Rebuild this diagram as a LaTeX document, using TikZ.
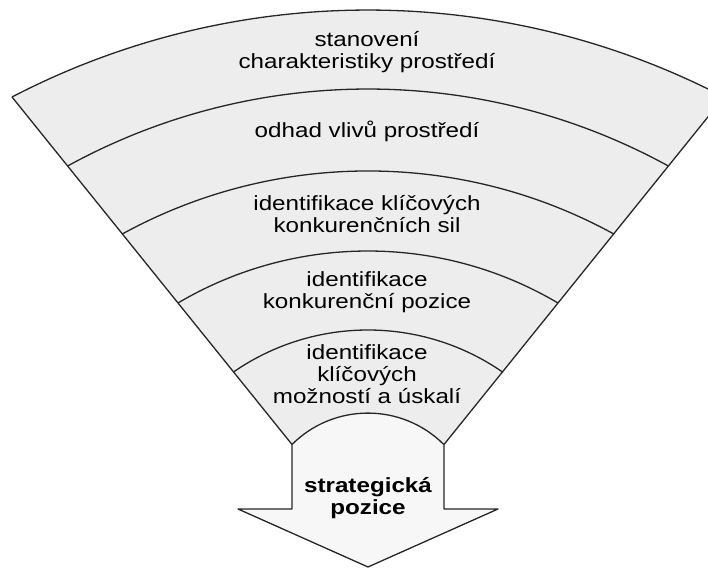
\documentclass[tikz,border=0pt]{standalone}
\usepackage{fontspec}
\setmainfont{Liberation Sans}[FakeStretch=1.18]
\tikzset{
  rim/.style={draw=black!85, line width=1.3pt, line join=round},
  layertext/.style={align=center, inner sep=0pt, font=\fontsize{20.5}{22}\selectfont},
}
\begin{document}
\begin{tikzpicture}[x=1pt,y=1pt]
\path[use as bounding box, clip] (0,0) rectangle (708,569);

\coordinate (l0) at (12,472);
\coordinate (l1) at (67.6,403);
\coordinate (l2) at (122.3,335);
\coordinate (l3) at (178,266);
\coordinate (l4) at (233.5,197);
\coordinate (l5) at (292,124.5);
\coordinate (r0) at (724,472);
\coordinate (r5) at (444,124.5);
\coordinate (sl) at (292,60);
\coordinate (sr) at (444,60);
\coordinate (wl) at (238,60);
\coordinate (wr) at (498,60);
\coordinate (tip) at (368,2);

\fill[black!7] (l0) arc[start angle=117.46,end angle=62.54,radius=771.9] -- (r5)
  arc[start angle=45.04,end angle=134.96,radius=107.4] -- cycle;
\fill[black!3] (l5) arc[start angle=134.96,end angle=45.04,radius=107.4] -- (sr) -- (wr) -- (tip) -- (wl) -- (sl) -- cycle;

\draw[rim] (l0) arc[start angle=117.46,end angle=62.54,radius=771.9];
\draw[rim] (l1) arc[start angle=118.75,end angle=61.25,radius=624.5];
\draw[rim] (l2) arc[start angle=118.77,end angle=61.23,radius=510.6];
\draw[rim] (l3) arc[start angle=120.61,end angle=59.39,radius=373.1];
\draw[rim] (l4) arc[start angle=124.68,end angle=55.32,radius=236.4];
\draw[rim] (l5) arc[start angle=134.96,end angle=45.04,radius=107.4];
\draw[rim] (l0) -- (l5) -- (sl) -- (wl) -- (tip) -- (wr) -- (sr) -- (r5) -- (r0);

\node[layertext] (environ) at (367,517) {stanovení\\charakteristiky prostředí};
\node[layertext] (impact) at (367,438) {odhad vlivů prostředí};
\node[layertext] (forces) at (367,355) {identifikace klíčových\\konkurenčních sil};
\node[layertext] (position) at (367,277) {identifikace\\konkurenční pozice};
\node[layertext] (chances) at (367,195) {identifikace\\klíčových\\možností a úskalí};
\node[layertext, font=\fontsize{20.5}{22}\selectfont\bfseries] (result) at (368,71) {strategická\\pozice};
\end{tikzpicture}
\end{document}
